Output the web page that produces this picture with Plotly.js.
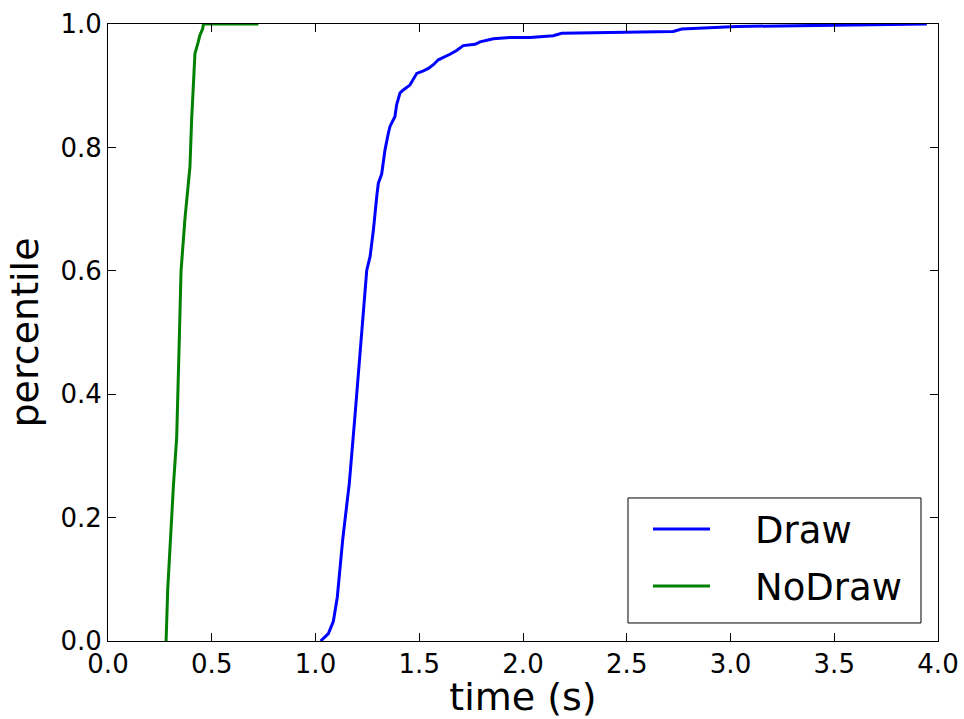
<!DOCTYPE html>
<html>
<head>
<meta charset="utf-8">
<script src="https://cdn.plot.ly/plotly-3.0.1.min.js"></script>
<style>html,body{margin:0;padding:0;background:#fff;}#chart{width:964px;height:719px;}</style>
</head>
<body>
<div id="chart"></div>
<script>
// Draw series (time in s, cumulative percentile)
const drawTime = [1.025, 1.062, 1.086, 1.105, 1.131, 1.163, 1.190, 1.214, 1.231, 1.247, 1.263, 1.279, 1.295, 1.303, 1.319, 1.335, 1.351, 1.359, 1.383, 1.391, 1.407, 1.423, 1.455, 1.488, 1.520, 1.544, 1.568, 1.592, 1.648, 1.680, 1.712, 1.769, 1.793, 1.857, 1.937, 2.034, 2.146, 2.186, 2.724, 2.765, 3.030, 3.946];
const drawPct  = [0.000, 0.012, 0.032, 0.071, 0.164, 0.256, 0.364, 0.466, 0.547, 0.601, 0.623, 0.666, 0.720, 0.742, 0.757, 0.796, 0.823, 0.834, 0.850, 0.869, 0.888, 0.893, 0.901, 0.920, 0.924, 0.928, 0.934, 0.942, 0.951, 0.957, 0.965, 0.967, 0.971, 0.976, 0.978, 0.978, 0.981, 0.985, 0.988, 0.992, 0.996, 1.000];
// NoDraw series
const noDrawTime = [0.280, 0.288, 0.315, 0.331, 0.344, 0.352, 0.371, 0.387, 0.395, 0.403, 0.411, 0.419, 0.435, 0.443, 0.456, 0.460, 0.725];
const noDrawPct  = [0.000, 0.085, 0.250, 0.330, 0.494, 0.600, 0.685, 0.747, 0.769, 0.844, 0.909, 0.952, 0.971, 0.982, 0.992, 1.000, 1.000];
const seriesNames = ["Draw", "NoDraw"];
const seriesColors = ["#0000ff", "#008000"];
const xTicks = [0, 0.5, 1, 1.5, 2, 2.5, 3, 3.5, 4];
const xTickText = ["0.0", "0.5", "1.0", "1.5", "2.0", "2.5", "3.0", "3.5", "4.0"];
const yTicks = [0, 0.2, 0.4, 0.6, 0.8, 1.0];
const yTickText = ["0.0", "0.2", "0.4", "0.6", "0.8", "1.0"];

const FONT = "DejaVu Sans, sans-serif";
const tickFont = {family: FONT, size: 26, color: "#000"};
const titleFont = {family: FONT, size: 38, color: "#000"};

const traces = [
  {x: drawTime, y: drawPct, name: seriesNames[0], mode: "lines", line: {color: seriesColors[0], width: 3}},
  {x: noDrawTime, y: noDrawPct, name: seriesNames[1], mode: "lines", line: {color: seriesColors[1], width: 3}}
];

// Manual matplotlib-style legend (paper coordinates)
const legendRowY = [0.1815, 0.0891];
const shapes = [
  {type: "rect", xref: "paper", yref: "paper", x0: 0.6265, x1: 0.9795, y0: 0.0292, y1: 0.2318,
   line: {color: "#000", width: 1}, fillcolor: "#fff", layer: "above"}
];
const annotations = [];
seriesNames.forEach((n, i) => {
  shapes.push({type: "line", xref: "paper", yref: "paper", x0: 0.6566, x1: 0.7253, y0: legendRowY[i], y1: legendRowY[i],
    line: {color: seriesColors[i], width: 3}, layer: "above"});
  annotations.push({xref: "paper", yref: "paper", x: 0.7783, y: legendRowY[i], xanchor: "left", yanchor: "middle",
    text: n, showarrow: false, font: {family: FONT, size: 37, color: "#000"}, borderpad: 0, yshift: -1});
});

const layout = {
  width: 964, height: 719,
  margin: {l: 108, r: 26, t: 24, b: 78},
  paper_bgcolor: "#fff", plot_bgcolor: "#fff",
  showlegend: false,
  shapes: shapes,
  annotations: annotations,
  xaxis: {
    range: [0, 4], tickvals: xTicks, ticktext: xTickText,
    ticks: "inside", ticklen: 8, tickwidth: 1, tickcolor: "#000",
    showline: true, linecolor: "#000", linewidth: 1, mirror: "allticks",
    showgrid: false, zeroline: false, tickfont: tickFont,
    title: {text: "time (s)", font: titleFont, standoff: 6}
  },
  yaxis: {
    range: [0, 1], tickvals: yTicks, ticktext: yTickText,
    ticks: "inside", ticklen: 8, tickwidth: 1, tickcolor: "#000",
    showline: true, linecolor: "#000", linewidth: 1, mirror: "allticks",
    showgrid: false, zeroline: false, tickfont: tickFont,
    title: {text: "percentile", font: titleFont, standoff: 10}
  }
};
Plotly.newPlot("chart", traces, layout, {displayModeBar: false, staticPlot: true});
</script>
</body>
</html>
